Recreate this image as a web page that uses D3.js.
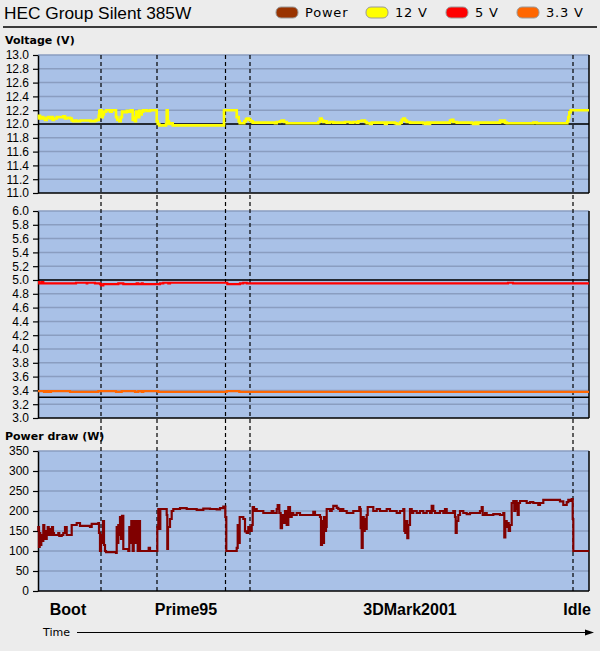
<!DOCTYPE html>
<html><head><meta charset="utf-8">
<script src="https://cdn.jsdelivr.net/npm/d3@7"></script>
<style>
html,body{margin:0;padding:0;background:#ececec;}
svg{display:block;}
</style></head>
<body>
<svg id="chart" width="600" height="651"></svg>
<script>
// ---------- DATA ----------
const title = "HEC Group Silent 385W";
const legendNames = ["Power", "12 V", "5 V", "3.3 V"];
const legendColors = ["#993300", "#ffff00", "#ff0000", "#ff6600"];

const voltTicks12 = [11.0, 11.2, 11.4, 11.6, 11.8, 12.0, 12.2, 12.4, 12.6, 12.8, 13.0];
const voltTicksLow = [3.0, 3.2, 3.4, 3.6, 3.8, 4.0, 4.2, 4.4, 4.6, 4.8, 5.0, 5.2, 5.4, 5.6, 5.8, 6.0];
const powerTicks = [0, 50, 100, 150, 200, 250, 300, 350];

const markerTimes = [63, 119, 187.5, 212, 535];
const phaseLabels = ["Boot", "Prime95", "3DMark2001", "Idle"];
const phaseTimes = [30, 148, 372, 539];

// time axis (arbitrary time units)
const timeDomain = [0, 551];

// 12 V rail
const v12Time = [0,1,2,3.7,5.3,7,8.7,10.3,12,13.7,14.7,16,18.7,25.3,27,28.7,32,33.7,35.3,37,38.7,42,52.7,57,58.7,60.7,61.3,62.7,63.7,64.7,66,68,72,73.7,78,79.3,81.3,82.7,84,86,88.7,90.3,92.7,94.7,96,97,98,99.3,100.3,101.3,102.7,103.7,105.3,108.7,112,118.7,119.7,121.3,128,128.7,129.7,131,132.7,134.7,186,198.7,200.7,201.7,206.3,208,209.3,211.3,212.7,214.7,237,238.7,242,243.7,246,248.7,262,280.3,282,283.7,285.3,287,288.7,292,295.3,307,312,315.3,318.7,320.3,323.7,327,328.7,332,333.7,347,348.7,357,358.7,362,363.7,365.3,367,368.7,372,385.3,387,388.7,390.3,392,412,413.7,415.3,418.7,433.7,435.3,437,438.7,440.3,462,463.7,465.3,467,468.7,495.3,498.7,529.3,530.3,531.3,532.7,551];
const v12Value = [12.08,12.12,12.08,12.10,12.08,12.06,12.09,12.10,12.08,12.10,12.06,12.08,12.10,12.11,12.08,12.09,12.08,12.05,12.04,12.05,12.04,12.05,12.04,12.05,12.06,12.12,12.19,12.20,12.10,12.14,12.18,12.20,12.18,12.20,12.10,12.06,12.04,12.10,12.18,12.17,12.19,12.18,12.20,12.06,12.10,12.04,12.18,12.14,12.10,12.19,12.14,12.18,12.20,12.19,12.20,12.04,12.00,11.98,12.00,12.20,12.04,12.00,12.01,11.98,12.20,12.10,12.04,12.01,12.04,12.07,12.08,12.06,12.04,12.02,12.01,12.03,12.04,12.05,12.03,12.01,12.01,12.03,12.08,12.05,12.03,12.04,12.02,12.03,12.02,12.03,12.02,12.03,12.02,12.04,12.05,12.03,12.01,12.00,12.02,12.00,12.02,12.01,12.00,12.02,12.06,12.08,12.05,12.03,12.02,12.01,12.00,12.02,12.00,12.02,12.05,12.06,12.03,12.02,12.01,12.00,12.02,12.00,12.02,12.05,12.03,12.05,12.02,12.01,12.02,12.01,12.04,12.10,12.17,12.20,12.20];

// 5 V rail
const v5Time = [0,1.3,3.7,5.3,38,48.7,49.3,57,62,63,65.3,80.3,85.3,98.7,100.3,103.7,104.7,122,125.3,130.3,132,187,189.3,202,205.3,208.7,470,475,551];
const v5Value = [4.97,4.95,4.97,4.95,4.96,4.95,4.96,4.95,4.94,4.92,4.94,4.95,4.94,4.95,4.94,4.95,4.94,4.95,4.96,4.95,4.96,4.96,4.94,4.95,4.96,4.95,4.96,4.95,4.95];

// 3.3 V rail
const v33Time = [0,6,7,9,10,12,13,32,60.3,78,83.7,97,100.3,103.7,105.3,120.3,188.7,201.3,551];
const v33Value = [3.39,3.38,3.39,3.38,3.39,3.38,3.39,3.38,3.39,3.38,3.39,3.38,3.39,3.38,3.39,3.38,3.39,3.38,3.38];

// Power draw (W)
const powerTime = [0,0.3,1,1.7,2.3,3.3,4.3,5.3,6.3,7,8.7,9.7,10.7,12,13,14,15,16,20.3,21.3,23.7,25.3,27,28.7,33.7,38.7,42,52,53.7,60.3,61,62,63,64,65,66,67,68,78,78.7,79.3,80.3,81.3,82,83,84,85.3,90.3,91.3,92.3,93.3,94.7,95.7,96.7,97.7,98.7,99.7,101,102,110.7,112,119.3,120.3,121.3,122.3,128.7,129.3,130,132,133.7,135.3,142,148.7,158.7,165.3,172,178.7,182,185.3,187.3,188.3,198.7,199.7,200.7,201.7,203.7,205.3,207,208.7,210.3,212,213.7,214.7,216,217,218.7,225.3,233.7,235.3,238.7,239.7,241.3,242.7,244,245.3,247,248.7,250.3,252,253.7,255.3,258.7,262,275.3,277,282,283,284,285,286,287,288,288.7,292,293.7,295.3,298.7,300.3,302,303.7,305.3,308.7,315.3,321.3,322,322.7,323.7,324.7,325.7,326.7,327.7,328.7,329.7,335.3,338.7,342,348.7,352,358.7,362,365.3,366.3,367.3,368.3,369.3,370.3,372,373.7,375.3,378.7,382,385.3,388.7,392,393.7,395.3,397,402,405.3,407,408.7,415.3,417,417.7,418.7,420.3,422,425.3,428.7,432,442,443.7,444.7,447,448.7,455.3,462,465.3,466.3,467.3,468.7,469.7,470.7,472,473.7,475.3,476.3,477.3,478.7,479.7,480.7,482,488.7,492,495.3,500.3,502,505.3,518.7,522,525.3,528.7,530.3,532,533.7,534.7,535.3,551];
const powerValue = [150,160,110,145,115,140,125,165,150,130,150,160,140,155,140,160,145,140,145,138,140,145,160,140,165,170,163,160,168,170,145,100,140,120,175,115,100,97,95,160,120,165,140,185,130,188,105,100,160,120,175,100,160,175,120,175,100,175,100,108,100,160,205,155,205,190,105,160,180,200,205,207,205,203,206,205,204,207,211,185,100,108,165,120,185,185,180,149,145,160,150,165,210,200,205,200,195,200,195,205,215,195,157,190,170,200,165,210,185,195,190,195,190,198,190,185,115,175,120,185,150,160,205,200,205,213,208,205,200,205,200,195,200,210,205,157,108,185,150,180,155,190,210,200,205,200,205,200,195,200,205,150,145,175,132,165,205,195,200,195,200,195,200,195,213,200,195,200,195,205,195,200,185,145,175,190,200,195,192,195,200,210,190,195,190,192,190,195,134,175,160,170,150,165,220,225,200,225,205,190,220,225,220,222,220,215,220,228,228,224,215,222,228,225,230,180,100,100];

// ---------- DRAW ----------
const svg = d3.select("#chart");
const x = d3.scaleLinear().domain(timeDomain).range([38, 589]);
const plotBg = "#a9c1e7", gridColor = "#8a9dc0";

// title + legend
svg.append("text").attr("x", 4).attr("y", 19)
  .style("font-family", "'Liberation Sans', Arial, sans-serif").style("font-size", "17.3px")
  .attr("fill", "#000").text(title);
const legX = [276, 366, 446, 517];
const legG = svg.append("g");
legendNames.forEach((n, i) => {
  legG.append("rect").attr("x", legX[i]).attr("y", 7).attr("width", 22).attr("height", 11)
    .attr("rx", 5).attr("ry", 5).attr("fill", legendColors[i]).attr("stroke", "#9a9a9a").attr("stroke-width", 1);
  legG.append("text").attr("x", legX[i] + 29).attr("y", 17)
    .style("font-family", "'DejaVu Sans', Verdana, sans-serif").style("font-size", "13px")
    .style("letter-spacing", "0.8px").attr("fill", "#000").text(n);
});
svg.append("line").attr("x1", 3).attr("x2", 597).attr("y1", 27).attr("y2", 27)
  .attr("stroke", "#000").attr("stroke-width", 1.5);

// section labels
[["Voltage (V)", 44], ["Power draw (W)", 440]].forEach(([t, yy]) => {
  svg.append("text").attr("x", 5).attr("y", yy)
    .style("font-family", "'DejaVu Sans', Verdana, sans-serif").style("font-size", "11px")
    .style("font-weight", "bold").attr("fill", "#000").text(t);
});

const panels = [
  { domain: [11, 13], range: [193, 55], ticks: voltTicks12, fmt: d3.format(".1f"), refs: [12.0] },
  { domain: [3, 6], range: [418, 211], ticks: voltTicksLow, fmt: d3.format(".1f"), refs: [5.0, 3.3] },
  { domain: [0, 350], range: [591, 451], ticks: powerTicks, fmt: d3.format("d"), refs: [] }
];
panels.forEach(p => { p.y = d3.scaleLinear().domain(p.domain).range(p.range); });

// backgrounds + grid
panels.forEach(p => {
  const g = svg.append("g");
  g.append("rect").attr("x", x(timeDomain[0])).attr("y", p.range[1])
    .attr("width", x(timeDomain[1]) - x(timeDomain[0])).attr("height", p.range[0] - p.range[1])
    .attr("fill", plotBg);
  g.selectAll("line.grid").data(p.ticks.slice(1)).join("line")
    .attr("x1", x(timeDomain[0])).attr("x2", x(timeDomain[1]))
    .attr("y1", d => p.y(d)).attr("y2", d => p.y(d))
    .attr("stroke", gridColor).attr("stroke-width", 1.5);
  g.selectAll("line.ref").data(p.refs).join("line")
    .attr("x1", x(timeDomain[0])).attr("x2", x(timeDomain[1]))
    .attr("y1", d => p.y(d)).attr("y2", d => p.y(d))
    .attr("stroke", "#000").attr("stroke-width", 1.5);
});

// dashed phase markers
svg.append("g").selectAll("line").data(markerTimes).join("line")
  .attr("x1", d => x(d)).attr("x2", d => x(d)).attr("y1", 55).attr("y2", 591)
  .attr("stroke", "#000").attr("stroke-width", 1.2).attr("stroke-dasharray", "4,3");

// axes
panels.forEach(p => {
  const ax = svg.append("g").attr("transform", `translate(${x(timeDomain[0])},0)`)
    .call(d3.axisLeft(p.y).tickValues(p.ticks).tickFormat(p.fmt).tickSize(5).tickSizeOuter(0).tickPadding(4));
  ax.select(".domain").attr("stroke", "#000").attr("stroke-width", 1.5);
  ax.selectAll(".tick line").attr("stroke", "#000").attr("stroke-width", 1.2);
  ax.selectAll(".tick text").attr("fill", "#000")
    .style("font-family", "'Liberation Sans', Arial, sans-serif").style("font-size", "12px");
  // bottom and right borders
  svg.append("line").attr("x1", x(timeDomain[0])).attr("x2", x(timeDomain[1]))
    .attr("y1", p.range[0]).attr("y2", p.range[0]).attr("stroke", "#000").attr("stroke-width", 1.5);
  svg.append("line").attr("x1", x(timeDomain[1])).attr("x2", x(timeDomain[1]))
    .attr("y1", p.range[1]).attr("y2", p.range[0]).attr("stroke", "#000").attr("stroke-width", 1.5);
});

// series
function drawSeries(times, values, p, color, width) {
  const line = d3.line().x(d => x(d[0])).y(d => p.y(d[1])).curve(d3.curveStepAfter);
  svg.append("path").datum(d3.zip(times, values)).attr("d", line)
    .attr("fill", "none").attr("stroke", color).attr("stroke-width", width)
    .attr("stroke-linejoin", "miter");
}
drawSeries(v12Time, v12Value, panels[0], "#ffff00", 2.6);
drawSeries(v5Time, v5Value, panels[1], "#ff0000", 2.2);
drawSeries(v33Time, v33Value, panels[1], "#ff6600", 2.2);
drawSeries(powerTime, powerValue, panels[2], "#800000", 2.2);

// phase labels
svg.append("g").selectAll("text").data(phaseLabels).join("text")
  .attr("x", (d, i) => x(phaseTimes[i])).attr("y", 615).attr("text-anchor", "middle")
  .style("font-family", "'Liberation Sans', Arial, sans-serif").style("font-size", "16px")
  .style("font-weight", "bold").attr("fill", "#000").text(d => d);

// time arrow
svg.append("text").attr("x", 43).attr("y", 636)
  .style("font-family", "'DejaVu Sans', Verdana, sans-serif").style("font-size", "11px")
  .attr("fill", "#000").text("Time");
svg.append("line").attr("x1", 77).attr("x2", 588).attr("y1", 632.5).attr("y2", 632.5)
  .attr("stroke", "#000").attr("stroke-width", 1.2);
svg.append("path").attr("d", "M585,629.5 L594,632.5 L585,635.5 Z").attr("fill", "#000");
</script>
</body></html>
